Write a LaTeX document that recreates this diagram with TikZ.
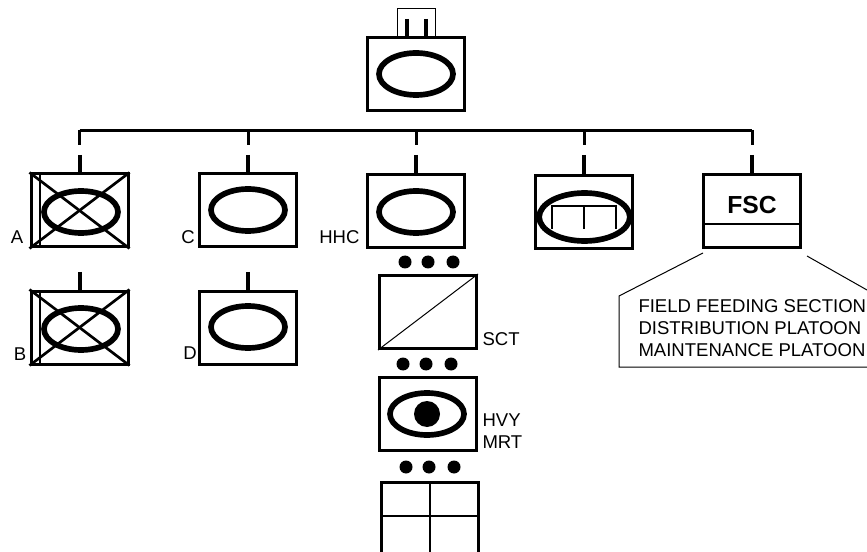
\documentclass[tikz,border=0pt]{standalone}
\usepackage{fontspec}
\setmainfont{Liberation Sans}
\usetikzlibrary{shapes.geometric}
\tikzset{every picture/.style={line width=0.75pt}}
\tikzset{
  unit/.style={draw,line width=2.25pt,minimum width=72.75pt,minimum height=54.75pt,inner sep=0pt},
  oval/.style={draw,ellipse,line width=4.25pt,minimum width=55.5pt,minimum height=31.5pt,inner sep=0pt},
  stem/.style={line width=2.25pt},
  mark line/.style={line width=2pt},
  thin line/.style={line width=0.75pt},
  ddot/.style={circle,fill=black,minimum size=9.75pt,inner sep=0pt},
  lbl/.style={inner sep=0.75pt,font=\fontsize{13.9pt}{16pt}\selectfont},
}
\begin{document}
\begin{tikzpicture}[x=0.75pt,y=0.75pt,yscale=-1,xscale=1]
\clip (0,0) rectangle (867,552);
% Command post
\node [unit] (top) at (416,74) {};
\node [oval] (topoval) at (416,74) {};
\coordinate (flagsw) at (397,37);
\coordinate (flagnw) at (397,9);
\coordinate (flagne) at (435,9);
\coordinate (flagse) at (435,37);
\draw [thin line] (flagsw) -- (flagnw) -- (flagne) -- (flagse);
\coordinate (staffa) at (407,19);
\coordinate (staffb) at (426,19);
\draw [stem,line width=3pt] (staffa) -- (staffa |- top.north);
\draw [stem,line width=3pt] (staffb) -- (staffb |- top.north);
% Bus line
\coordinate (busl) at (79.5,130.5);
\coordinate (busr) at (752,130.5);
\draw [stem] (busl) -- (busr);
% Row one
\node [unit] (compa) at (79.5,210.5) {};
\node [oval] (compaoval) at (81,212) {};
\node [unit] (compc) at (248,210.5) {};
\node [oval] (compcoval) at (248,210) {};
\node [unit] (hhc) at (416,211.5) {};
\node [oval] (hhcoval) at (416,212) {};
\node [unit] (engr) at (584,212) {};
\node [oval,minimum width=68pt,minimum height=36pt] (engroval) at (584.5,217) {};
\node [unit] (fsc) at (752,211) {};
% Row two
\node [unit] (compb) at (79.5,327.5) {};
\node [oval] (compboval) at (81,329) {};
\node [unit] (compd) at (248,327.5) {};
\node [oval] (compdoval) at (248,327) {};
% Stems
\foreach \n/\x in {a/79.5,b/248,c/416,d/584,e/752} {
  \coordinate (drop\n) at (\x,130);
  \coordinate (dropend\n) at (\x,145);
  \coordinate (stem\n) at (\x,155);
  \draw [stem] (drop\n) -- (dropend\n);
}
\draw [stem,line width=3pt] (stema) -- (compa.north);
\draw [stem,line width=3pt] (stemb) -- (compc.north);
\draw [stem,line width=3pt] (stemc) -- (hhc.north);
\draw [stem,line width=3pt] (stemd) -- (engr.north);
\draw [stem,line width=3pt] (steme) -- (fsc.north);
\coordinate (stemlowa) at (79.5,272);
\coordinate (stemlowb) at (248,272);
\draw [stem,line width=3pt] (stemlowa) -- (compb.north);
\draw [stem,line width=3pt] (stemlowb) -- (compd.north);
\draw [mark line] (compa.south west) -- (compa.north east);
\draw [mark line] (compa.north west) -- (compa.south east);
\draw [mark line] (compb.south west) -- (compb.north east);
\draw [mark line] (compb.north west) -- (compb.south east);
\draw [mark line] (40,174) -- (40,247);
\draw [mark line] (40,291) -- (40,364);
% Engineer mark
\draw [mark line] (552,229) -- (552,206) -- (616,206) -- (616,229);
\draw [mark line] (584,206) -- (584,229);
% FSC divider
\coordinate (fscdiv) at (703,224);
\draw [mark line] (fscdiv) -- (fscdiv -| fsc.east);
% Scouts
\node [unit] (sct) at (428,312) {};
\draw [thin line] (sct.south west) -- (sct.north east);
% Mortars
\node [unit] (hvy) at (428,414) {};
\node [oval] (hvyoval) at (427,414) {};
\node [circle,fill=black,minimum size=19.5pt,inner sep=0pt] (hvydot) at (427,414) {};
% Bottom unit
\node [unit,minimum height=75pt] (lowr) at (429.5,532) {};
\coordinate (lowrh) at (381,516);
\coordinate (lowrv) at (430,482);
\draw [mark line] (lowrh) -- (lowrh -| lowr.east);
\draw [mark line] (lowrv) -- (430,552);
% Dots
\foreach \n/\x/\y in {p/405/262,q/428/262,r/453/262,s/403/364,t/426/364,u/451/364,v/406/467,w/429/467,y/454/467} {
  \node [ddot] (dot\n) at (\x,\y) {};
}
% Callout
\coordinate (calla) at (703,253);
\coordinate (callb) at (619,296);
\coordinate (callc) at (619,367);
\coordinate (calld) at (867,367);
\coordinate (calle) at (807,256);
\coordinate (callf) at (867,290);
\draw [thin line] (calla) -- (callb) -- (callc) -- (calld);
\draw [thin line] (calle) -- (callf);
% Text Node
\node [inner sep=0.75pt,font=\fontsize{18.5pt}{20pt}\selectfont\bfseries] (lblfsc) at (752,205) {FSC};
\node [lbl,anchor=west] (lblfield) at (637,306) {FIELD FEEDING SECTION};
\node [lbl,anchor=west] (lbldist) at (637,328) {DISTRIBUTION PLATOON};
\node [lbl,anchor=west] (lblmaint) at (637,350) {MAINTENANCE PLATOON};
\node [lbl] (lbla) at (17,237) {A};
\node [lbl] (lblb) at (20,354) {B};
\node [lbl] (lblc) at (188,237) {C};
\node [lbl] (lbld) at (190,353) {D};
\node [lbl,anchor=east] (lblhhc) at (361,237) {HHC};
\node [lbl,anchor=west] (lblsct) at (481,339) {SCT};
\node [lbl,anchor=west] (lblhvy) at (481,420) {HVY};
\node [lbl,anchor=west] (lblmrt) at (481,442) {MRT};
\end{tikzpicture}
\end{document}
